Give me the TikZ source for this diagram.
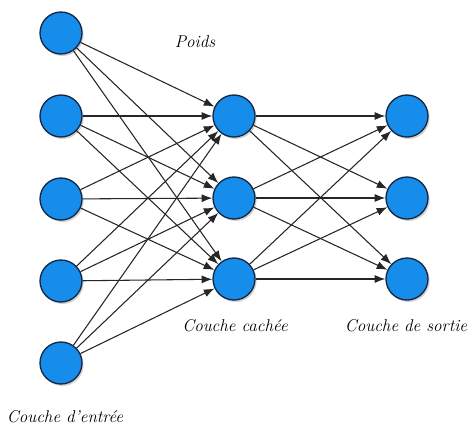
\documentclass[tikz,border=0pt]{standalone}
\usetikzlibrary{arrows.meta,shadows}

\definecolor{neurone}{RGB}{22,140,235}

\tikzset{every picture/.style={line width=0.75pt}}
\tikzset{
  neuron/.style={circle,draw={rgb,255:red,20;green,40;blue,70},line width=1pt,fill=neurone,minimum size=31.5pt,inner sep=0pt,
    drop shadow={shadow xshift=1.2pt,shadow yshift=-1.5pt,fill=black!35,opacity=0.5}},
  weight/.style={draw=black!85,line width=0.8pt,-{Latex[length=8pt,width=6pt]}},
  caption/.style={inner sep=0.75pt,font=\fontsize{12.8}{15}\selectfont\itshape}
}

\begin{document}
\begin{tikzpicture}[x=0.75pt,y=0.75pt,yscale=-1,xscale=1]
\useasboundingbox (0,0) rectangle (472,426);

%Input layer
\node [neuron] (in1) at (61,33) {};
\node [neuron] (in2) at (61,116) {};
\node [neuron] (in3) at (61,199) {};
\node [neuron] (in4) at (61,281) {};
\node [neuron] (in5) at (61,363) {};
%Hidden layer
\node [neuron] (hid1) at (234,116) {};
\node [neuron] (hid2) at (234,198) {};
\node [neuron] (hid3) at (234,279) {};
%Output layer
\node [neuron] (out1) at (407,116) {};
\node [neuron] (out2) at (407,198) {};
\node [neuron] (out3) at (407,279) {};

%Weights input -> hidden
\draw [weight] (in1) -- (hid1) ;
\draw [weight] (in1) -- (hid2) ;
\draw [weight] (in1) -- (hid3) ;
\draw [weight] (in2) -- (hid1) ;
\draw [weight] (in2) -- (hid2) ;
\draw [weight] (in2) -- (hid3) ;
\draw [weight] (in3) -- (hid1) ;
\draw [weight] (in3) -- (hid2) ;
\draw [weight] (in3) -- (hid3) ;
\draw [weight] (in4) -- (hid1) ;
\draw [weight] (in4) -- (hid2) ;
\draw [weight] (in4) -- (hid3) ;
\draw [weight] (in5) -- (hid1) ;
\draw [weight] (in5) -- (hid2) ;
\draw [weight] (in5) -- (hid3) ;
%Weights hidden -> output
\draw [weight] (hid1) -- (out1) ;
\draw [weight] (hid1) -- (out2) ;
\draw [weight] (hid1) -- (out3) ;
\draw [weight] (hid2) -- (out1) ;
\draw [weight] (hid2) -- (out2) ;
\draw [weight] (hid2) -- (out3) ;
\draw [weight] (hid3) -- (out1) ;
\draw [weight] (hid3) -- (out2) ;
\draw [weight] (hid3) -- (out3) ;

% Text Node
\node [caption] (poids) at (195,42) {Poids};
% Text Node
\node [caption] (lblhid) at (235,326) {Couche cachée};
% Text Node
\node [caption] (lblout) at (406,326) {Couche de sortie};
% Text Node
\node [caption] (lblin) at (65,417) {Couche d'entrée};

\end{tikzpicture}
\end{document}
